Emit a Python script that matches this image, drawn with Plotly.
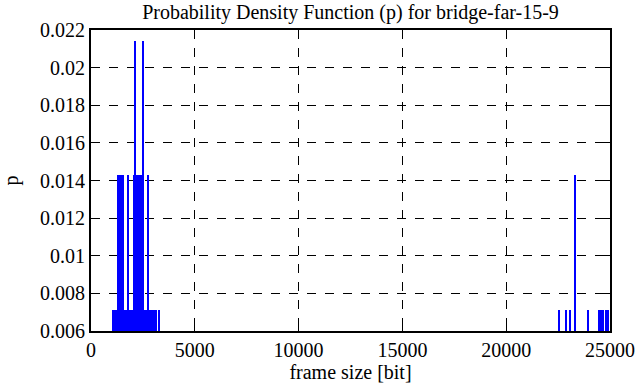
import plotly.graph_objects as go

# frame sizes [bit] and their probability density values
frame_sizes = [1060, 1156, 1252, 1301, 1397, 1493, 1541, 1638, 1686, 1782,
               1879, 1927, 1975, 2071, 2119, 2216, 2312, 2408, 2505, 2601,
               2649, 2746, 2842, 2890, 2938, 2986, 3035, 3131, 3276,
               22544, 22881, 23074, 23314, 23940, 24470, 24567, 24663, 24807, 24904]
p_values = [0.00714, 0.00714, 0.00714, 0.01429, 0.01429, 0.01429, 0.01429, 0.00714, 0.00714, 0.01429,
            0.00714, 0.00714, 0.00714, 0.01429, 0.02143, 0.01429, 0.01429, 0.01429, 0.02143, 0.00714,
            0.00714, 0.01429, 0.00714, 0.00714, 0.00714, 0.00714, 0.00714, 0.00714, 0.00714,
            0.00714, 0.00714, 0.00714, 0.01429, 0.00714, 0.00714, 0.00714, 0.00714, 0.00714, 0.00714]

x_ticks = [0, 5000, 10000, 15000, 20000, 25000]
y_ticks = [0.006, 0.008, 0.01, 0.012, 0.014, 0.016, 0.018, 0.02, 0.022]
y_tick_labels = ["0.006", "0.008", "0.01", "0.012", "0.014", "0.016", "0.018", "0.02", "0.022"]

SERIF = "Liberation Serif, Times New Roman, Times, serif"
FS = 20
font = dict(family=SERIF, size=FS, color="black")

fig = go.Figure()
fig.add_trace(go.Bar(x=frame_sizes, y=p_values, width=96,
                     marker=dict(color="#0000ff", line=dict(width=0)),
                     hoverinfo="skip", showlegend=False))

axis_common = dict(showline=True, linecolor="black", linewidth=2, mirror="ticks",
                   ticks="inside", ticklen=6, tickwidth=1, tickcolor="black",
                   showgrid=True, gridcolor="black", gridwidth=1, griddash="dash",
                   zeroline=False, automargin=False,
                   tickfont=dict(family=SERIF, size=FS, color="black"))

fig.update_layout(
    width=636, height=387,
    margin=dict(l=91, r=26, t=30, b=56, autoexpand=False),
    paper_bgcolor="white", plot_bgcolor="white",
    font=font,
    bargap=0,
    title=dict(text="Probability Density Function (p) for bridge-far-15-9",
               xref="paper", x=0.5, xanchor="center", y=0.969, yanchor="middle",
               font=dict(family=SERIF, size=FS, color="black"), automargin=False),
    xaxis=dict(range=[0, 25000], tickvals=x_ticks,
               ticktext=[str(v) for v in x_ticks],
               title=dict(text="frame size [bit]", font=dict(family=SERIF, size=FS, color="black"), standoff=2),
               **axis_common),
    yaxis=dict(range=[0.006, 0.022], tickvals=y_ticks, ticktext=y_tick_labels,
               title=dict(text="p", font=dict(family=SERIF, size=FS, color="black"), standoff=20),
               **axis_common),
)

fig.write_html("out.html", config={"displayModeBar": False},
               post_script="document.body.style.margin='0';")
